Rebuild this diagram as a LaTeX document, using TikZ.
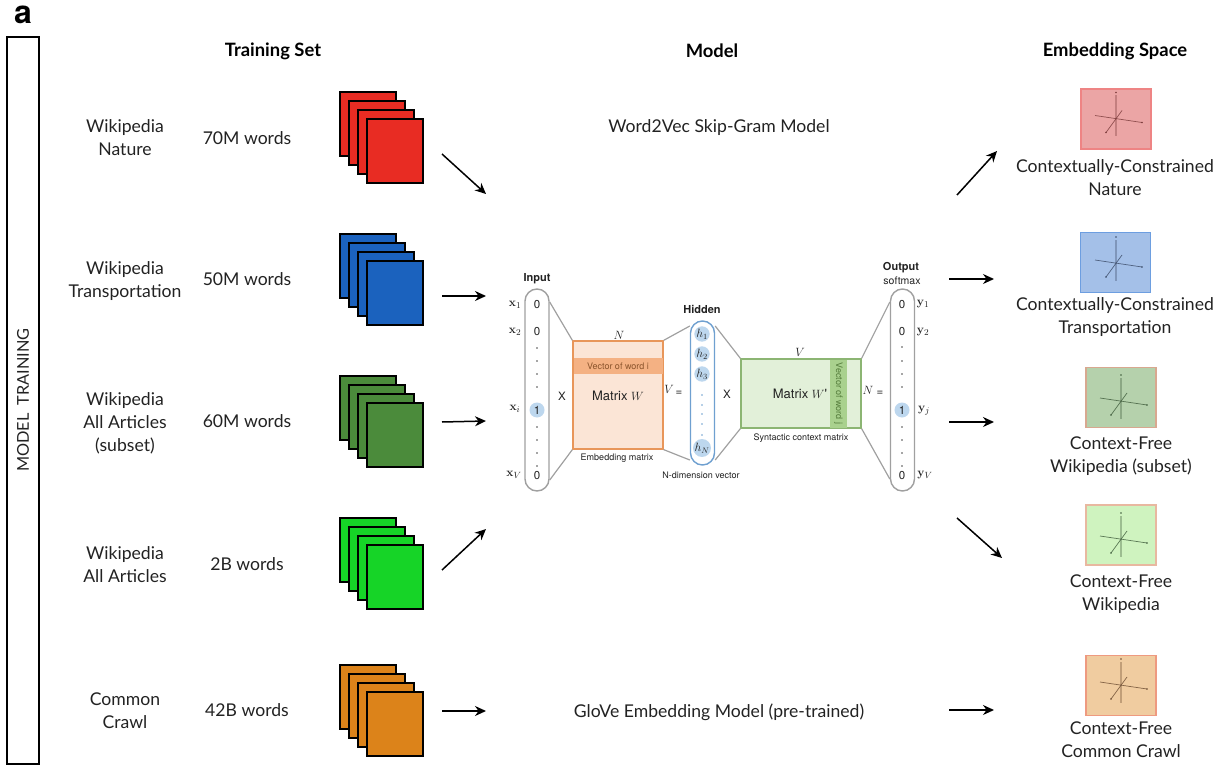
\documentclass[tikz,border=0pt]{standalone}
\usepackage[no-math]{fontspec}
\setmainfont{Lato}
\newfontfamily\headfont{TeX Gyre Heros}
\usetikzlibrary{arrows.meta,calc}
\definecolor{txt}{HTML}{222222}
\definecolor{cRed}{HTML}{E82C23}
\definecolor{cBlue}{HTML}{1B62BE}
\definecolor{cDark}{HTML}{4B8B3B}
\definecolor{cGreen}{HTML}{16D427}
\definecolor{cOrange}{HTML}{DC831A}
\definecolor{pillgray}{HTML}{A0A0A0}
\definecolor{pillblue}{HTML}{6FA0D0}
\definecolor{hfill}{HTML}{BDD7EE}
\definecolor{wfill}{HTML}{FBE5D6}
\definecolor{wband}{HTML}{F4B183}
\definecolor{wline}{HTML}{E8965A}
\definecolor{vfill}{HTML}{E2F0D9}
\definecolor{vband}{HTML}{A9D18E}
\definecolor{vline}{HTML}{8CB573}
\tikzset{
  lab/.style={font=\fontsize{17.6}{23}\selectfont,text=txt,align=center,inner sep=0pt},
  head/.style={font=\fontsize{18.4}{20}\selectfont\bfseries,text=black,inner sep=0pt},
  sheet/.style={draw=black,line width=1.6pt,minimum width=56pt,minimum height=64pt,inner sep=0pt},
  flow/.style={draw=black,line width=1.5pt,-{Stealth[length=11pt,width=10pt]}},
  pill/.style={draw=#1,line width=1.4pt,fill=white,rounded corners=12pt,minimum width=24pt,inner sep=0pt},
  link/.style={draw=pillgray,line width=1.2pt},
  small/.style={font=\fontsize{9}{10}\selectfont\headfont,text=txt,inner sep=0pt},
  smallb/.style={font=\fontsize{11}{12}\selectfont\headfont\bfseries,text=txt,inner sep=0pt},
  val/.style={font=\fontsize{11.5}{12}\selectfont\headfont,text=txt,inner sep=0pt},
  sym/.style={font=\fontsize{13}{14}\selectfont,text=txt,inner sep=0pt},
  matr/.style={font=\fontsize{13}{14}\selectfont\headfont,text=txt,inner sep=0pt},
  dotmark/.style={circle,fill=#1,inner sep=0pt,minimum size=1.8pt},
  hcirc/.style={circle,fill=hfill,inner sep=0pt,minimum size=14pt,font=\fontsize{12}{13}\selectfont,text=txt},
  emb/.style n args={2}{draw=#2,fill=#1,line width=1.5pt,minimum width=70pt,minimum height=60pt,inner sep=0pt},
  axis/.style={draw=#1,line width=0.7pt,opacity=.8},
}
\newcommand{\stackof}[3]{% name, colour, top y of the rear sheet
  \foreach \k in {0,1,2,3}{
    \node[sheet,fill=#2] (#1\k) at ({368+9*\k},{#3+32+9*\k}) {};
  }
}
\newcommand{\embox}[8]{% name, fill, line, axis colour, cx, cy, cross x, cross y
  \definecolor{efill}{HTML}{#2}\definecolor{eline}{HTML}{#3}\definecolor{eaxis}{HTML}{#4}
  \node[emb={efill}{eline}] (#1) at (#5,#6) {};
  \coordinate (#1c) at (#7,#8);
  \draw[draw=eaxis,line width=1.4pt,opacity=.35] ($(#1c)+(0,-23)$) -- ($(#1c)+(0,18)$);
  \draw[axis=eaxis] ($(#1c)+(-21,-3)$) -- ($(#1c)+(26,4)$);
  \draw[axis=eaxis] ($(#1c)+(-10,14)$) -- ($(#1c)+(6,-8)$);
  \fill[eaxis] ($(#1c)+(0,-26)$) circle (0.9pt) ($(#1c)+(26,4)$) circle (0.9pt) ($(#1c)+(-10,14)$) circle (0.9pt);
}
\begin{document}
\begin{tikzpicture}[x=1pt,y=-1pt]
\useasboundingbox (0,0) rectangle (1224,765);

\node[font=\fontsize{32}{32}\selectfont\bfseries\headfont,inner sep=0pt,anchor=base] (panel) at (23,24) {a};
\node[draw=black,line width=1.5pt,minimum width=32pt,minimum height=727pt,inner sep=0pt] (side) at (23,400.5) {};
\node[font=\fontsize{16.3}{20}\selectfont,text=txt,rotate=90,inner sep=0pt] (sidetext) at (23,400) {MODEL\ \ TRAINING};

\node[head] (h1) at (273,51) {Training Set};
\node[head] (h2) at (712,51) {Model};
\node[head] (h3) at (1115,51) {Embedding Space};

\node[lab] (s1) at (125,138) {Wikipedia\\Nature};
\node[lab] (s2) at (125,281) {Wikipedia\\Transportation};
\node[lab] (s3) at (125,423) {Wikipedia\\All Articles\\(subset)};
\node[lab] (s4) at (125,565) {Wikipedia\\All Articles};
\node[lab] (s5) at (125,711) {Common\\Crawl};

\node[lab] (n1) at (247,138) {70M words};
\node[lab] (n2) at (247,279) {50M words};
\node[lab] (n3) at (247,421) {60M words};
\node[lab] (n4) at (247,564) {2B words};
\node[lab] (n5) at (247,710) {42B words};

\stackof{ra}{cRed}{92}
\stackof{rb}{cBlue}{234}
\stackof{rc}{cDark}{376}
\stackof{rd}{cGreen}{518}
\stackof{re}{cOrange}{665}

\node[lab] (m1) at (719,128) {Word2Vec Skip-Gram Model};
\node[lab] (m2) at (719,712) {GloVe Embedding Model (pre-trained)};

% network
\node[pill=pillgray,minimum height=202pt] (inp) at (537,390) {};
\node[pill=pillblue,minimum height=144pt] (hid) at (702.5,393) {};
\node[pill=pillgray,minimum height=202pt] (out) at (902.5,390) {};

\node[draw=wline,fill=wfill,line width=1.2pt,minimum width=90pt,minimum height=108pt,inner sep=0pt] (W) at (618,395) {};
\node[fill=wband,minimum width=89pt,minimum height=16pt,inner sep=0pt,font=\fontsize{9}{10}\selectfont\headfont,text={rgb,255:red,140;green,85;blue,45}] (Wb) at (618,366) {Vector of word i};
\node[draw=vline,fill=vfill,line width=1.2pt,minimum width=120pt,minimum height=69pt,inner sep=0pt] (Vm) at (801,393.5) {};
\node[fill=vband,minimum width=17pt,minimum height=68pt,inner sep=0pt] (Vb) at (838.5,393.5) {};
\node[rotate=-90,font=\fontsize{9}{10}\selectfont\headfont,text={rgb,255:red,85;green,125;blue,60},inner sep=0pt] (Vbt) at (838.5,393.5) {Vector of word j};

\draw[link] ([yshift=88pt]inp.east) -- (W.north west);
\draw[link] ([yshift=-90pt]inp.east) -- (W.south west);
\draw[link] (W.north east) -- ([yshift=67pt]hid.west);
\draw[link] (W.south east) -- ([yshift=-67pt]hid.west);
\draw[link] ([yshift=67pt]hid.east) -- (Vm.north west);
\draw[link] ([yshift=-67pt]hid.east) -- (Vm.south west);
\draw[link] (Vm.north east) -- ([yshift=88pt]out.west);
\draw[link] (Vm.south east) -- ([yshift=-89pt]out.west);

\node[smallb] (tInp) at (537,279) {Input};
\node[smallb] (tHid) at (702,309) {Hidden};
\node[smallb] (tOut) at (901,268) {Output};
\node[font=\fontsize{10.5}{11}\selectfont\headfont,text=txt,inner sep=0pt] (tSoft) at (902,281) {softmax};

\node[val] (i1) at (537,305) {0};
\node[val] (i2) at (537,332) {0};
\foreach \y [count=\c] in {348,361,374,387,427,440,453,466}{\node[dotmark=black!70] (id\c) at (537,\y) {};}
\node[circle,fill=hfill,minimum size=15pt,inner sep=0pt] (ic) at (537,410) {};
\node[val] (ii) at (537,410) {1};
\node[val] (iv) at (537,476) {0};
\node[sym] (lx1) at (515,305) {$\mathbf{x}_1$};
\node[sym] (lx2) at (515,332) {$\mathbf{x}_2$};
\node[sym] (lxi) at (515,409) {$\mathbf{x}_i$};
\node[sym] (lxv) at (514,475) {$\mathbf{x}_V$};

\node[val] (o1) at (902,305) {0};
\node[val] (o2) at (902,332) {0};
\foreach \y [count=\c] in {347,361,374,387,427,440,453,466}{\node[dotmark=black!70] (od\c) at (902,\y) {};}
\node[circle,fill=hfill,minimum size=15pt,inner sep=0pt] (oc) at (902,410) {};
\node[val] (oi) at (902,410) {1};
\node[val] (ov) at (902,476) {0};
\node[sym] (ly1) at (923,304) {$\mathbf{y}_1$};
\node[sym] (ly2) at (923,332) {$\mathbf{y}_2$};
\node[sym] (lyj) at (924,411) {$\mathbf{y}_j$};
\node[sym] (lyv) at (925,475) {$\mathbf{y}_V$};

\node[hcirc] (h1c) at (702,334) {$h_1$};
\node[hcirc] (h2c) at (702,354) {$h_2$};
\node[hcirc] (h3c) at (702,374) {$h_3$};
\foreach \y [count=\c] in {395,405,414,424,435}{\node[dotmark=pillblue] (hd\c) at (702,\y) {};}
\node[hcirc] (hNc) at (702,448) {$h_N$};

\node[val] (xa) at (562,396) {X};
\node[val] (xb) at (727,394) {X};
\node[matr] (mW) at (618,396) {Matrix $W$};
\node[matr] (mV) at (800,394) {Matrix $W$'};
\node[sym] (lN) at (619,335) {$N$};
\node[sym] (lV2) at (800,352) {$V$};
\node[sym] (eqaV) at (669,389) {$V$};
\node[val] (eqa) at (679,393) {=};
\node[sym] (eqbN) at (868,390) {$N$};
\node[val] (eqb) at (880,393) {=};
\node[small] (cap1) at (617,458) {Embedding matrix};
\node[small] (cap2) at (701,475) {N-dimension vector};
\node[small] (cap3) at (801,438) {Syntactic context matrix};

% embedding spaces
\embox{ea}{EBA5A5}{EE8484}{7A3A3A}{1116}{119}{1116}{118.5}
\embox{eb}{A4C0E8}{6D9EE0}{3A4A66}{1115.5}{262.5}{1116}{263}
\embox{ec}{B5D1AC}{D8A890}{3D5A3A}{1121}{397.5}{1121}{401}
\embox{ed}{CFF3BF}{E8B8A0}{3D5A3A}{1121}{535}{1121}{539}
\embox{ee}{F0CCA0}{EE9A80}{6A4A30}{1121}{685.5}{1121}{685}

\node[lab] (t1) at (1115,178) {Contextually-Constrained\\Nature};
\node[lab] (t2) at (1115,317) {Contextually-Constrained\\Transportation};
\node[lab] (t3) at (1121,456) {Context-Free\\Wikipedia (subset)};
\node[lab] (t4) at (1121,594) {Context-Free\\Wikipedia};
\node[lab] (t5) at (1121,740) {Context-Free\\Common Crawl};

% flow arrows
\coordinate (a1s) at (442,154); \coordinate (a1e) at (486,194);
\coordinate (a2s) at (442,296); \coordinate (a2e) at (486,296);
\coordinate (a3s) at (442,422); \coordinate (a3e) at (486,421);
\coordinate (a4s) at (442,570); \coordinate (a4e) at (486,529);
\coordinate (a5s) at (442,711); \coordinate (a5e) at (486,711);
\coordinate (b1s) at (957,195); \coordinate (b1e) at (997,151);
\coordinate (b2s) at (949,279); \coordinate (b2e) at (994,279);
\coordinate (b3s) at (949,422); \coordinate (b3e) at (994,422);
\coordinate (b4s) at (957,518); \coordinate (b4e) at (1002,558);
\coordinate (b5s) at (949,710); \coordinate (b5e) at (994,710);
\foreach \n in {a1,a2,a3,a4,a5,b1,b2,b3,b4,b5}{\draw[flow] (\n s) -- (\n e);}
\end{tikzpicture}
\end{document}
